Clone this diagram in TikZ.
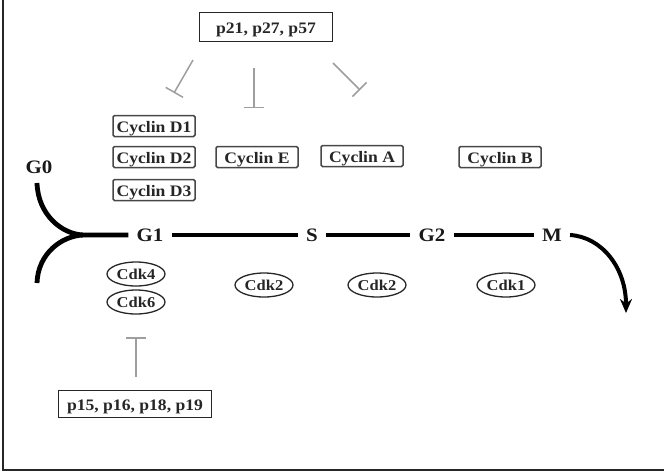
\documentclass[tikz,border=0pt]{standalone}
\usepackage{fontspec}
\setmainfont{Liberation Serif}[FakeStretch=1.1]
\usetikzlibrary{arrows.meta,shapes.geometric}
\begin{document}
\begin{tikzpicture}[x=1pt,y=-1pt,
  lbl/.style={font=\bfseries\fontsize{16}{18}\selectfont, text=black!85, text height=14pt, text depth=2pt},
  cyc/.style={lbl, draw=black!72, line width=1.5pt, rounded corners=1.5pt, minimum width=82pt, minimum height=21pt, inner sep=1pt},
  pbox/.style={lbl, draw=black!85, line width=1.6pt, inner sep=1pt},
  cdk/.style={lbl, font=\bfseries\fontsize{15}{17}\selectfont, text height=13pt, text depth=2pt, ellipse, draw=black!85, line width=1.3pt, minimum width=58pt, minimum height=24pt, inner sep=0pt},
  phase/.style={font=\bfseries\fontsize{19}{21}\selectfont, text=black!90, inner xsep=8pt, inner ysep=2pt},
  heavy/.style={draw=black, line width=4.8pt},
  inh/.style={draw=black!38, line width=1.5pt, -{Bar[width=20pt,line width=1.5pt]}}]
\useasboundingbox (0,0) rectangle (664,475);
% frame
\draw[line width=2pt, black!85] (3,0) -- (3,470) -- (664,470);
% inhibitor boxes
\node[pbox, minimum width=133pt, minimum height=29pt] (top) at (266,27) {p21, p27, p57};
\node[pbox, minimum width=153pt, minimum height=27pt] (bot) at (135,404) {p15, p16, p18, p19};
% cyclins
\node[cyc] (D1) at (154,126) {Cyclin D1};
\node[cyc] (D2) at (154,157) {Cyclin D2};
\node[cyc] (D3) at (154,190) {Cyclin D3};
\node[cyc] (E) at (257,157) {Cyclin E};
\node[cyc] (A) at (362,156) {Cyclin A};
\node[cyc] (B) at (500,157) {Cyclin B};
% cdks
\node[cdk] (cdk4) at (136,274) {Cdk4};
\node[cdk] (cdk6) at (136,302) {Cdk6};
\node[cdk] (cdk2a) at (264,285) {Cdk2};
\node[cdk] (cdk2b) at (377,285) {Cdk2};
\node[cdk] (cdk1) at (506,285) {Cdk1};
% phases
\node[phase] (G0) at (39,167) {G0};
\node[phase] (G1) at (150,235) {G1};
\node[phase] (S) at (312,235) {S};
\node[phase] (G2) at (432,235) {G2};
\node[phase] (M) at (552,235) {M};
\draw[heavy] (G1.east) -- (S.west);
\draw[heavy] (S.east) -- (G2.west);
\draw[heavy] (G2.east) -- (M.west);
% entry from G0 and re-entry
\coordinate (merge) at (83,235);
\coordinate (g0s) at (37,183);
\coordinate (lows) at (37,283);
\draw[heavy] (g0s) .. controls (38,215) and (62,234) .. (merge) -- (G1.west);
\draw[heavy] (lows) .. controls (38,253) and (62,236) .. (merge);
% exit from M
\coordinate (mend) at (626,313);
\draw[draw=black, line width=4pt, -{Stealth[length=14pt,width=12pt]}] (M.east) .. controls (602,237) and (626,268) .. (mend);
% inhibition lines
\coordinate (i1s) at (193,60);
\coordinate (i1e) at (174,93);
\coordinate (i2s) at (254,68);
\coordinate (i2e) at (254,108);
\coordinate (i3s) at (333,63);
\coordinate (i3e) at (360,90);
\coordinate (i4s) at (136,377);
\coordinate (i4e) at (136,337);
\draw[inh] (i1s) -- (i1e);
\draw[inh] (i2s) -- (i2e);
\draw[inh] (i3s) -- (i3e);
\draw[inh] (i4s) -- (i4e);
\end{tikzpicture}
\end{document}
